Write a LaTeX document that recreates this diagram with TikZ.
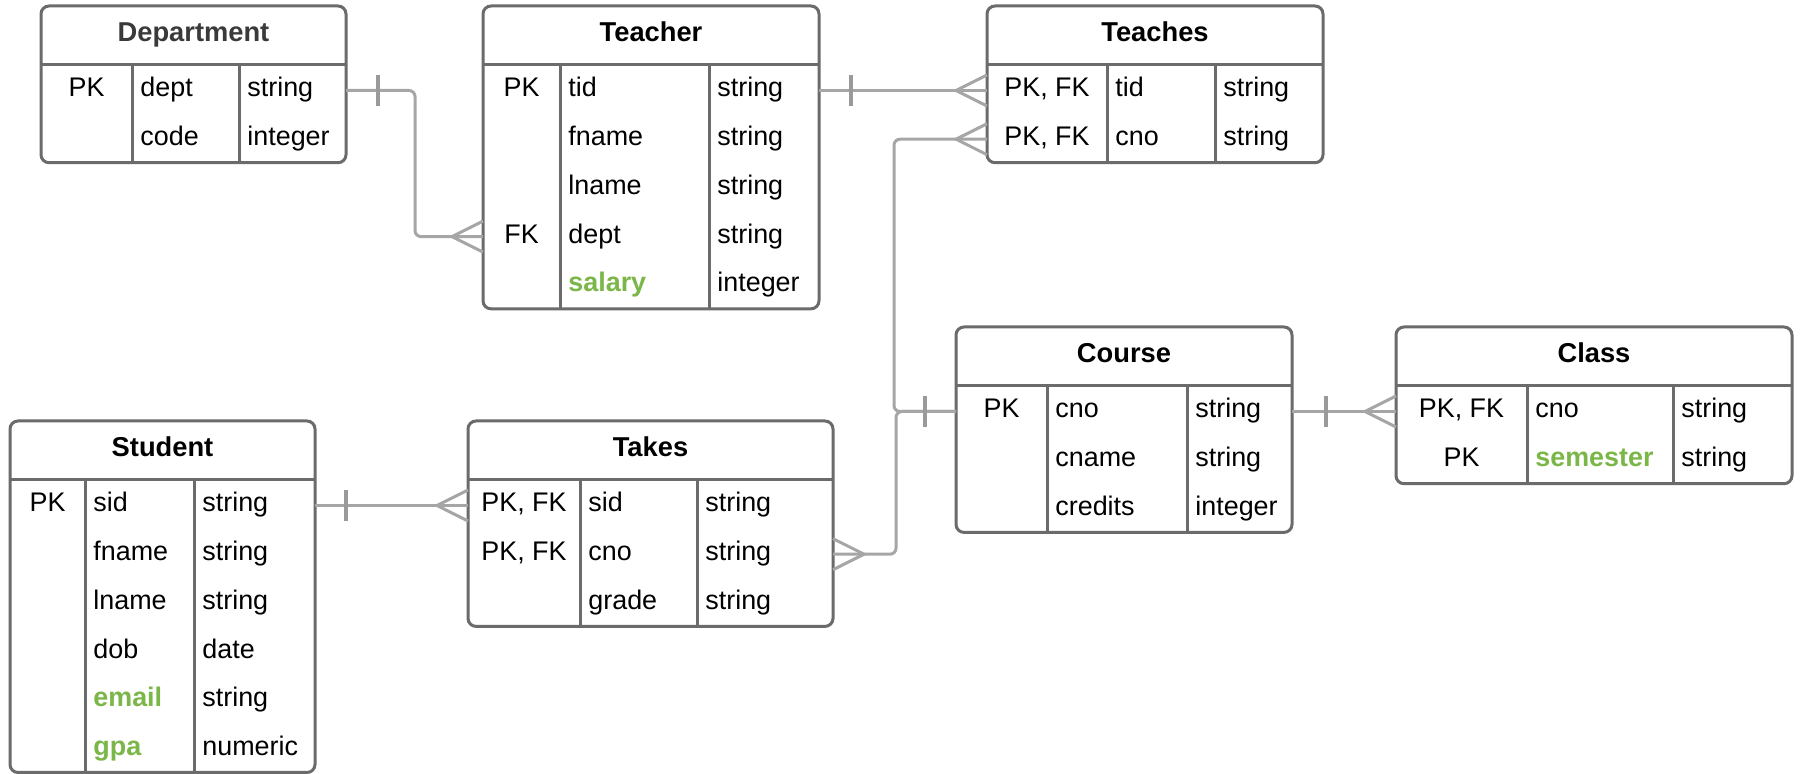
\documentclass[tikz,border=0pt]{standalone}
\usepackage{fontspec}
\setmainfont{Liberation Sans}
\usetikzlibrary{calc,fit}

\definecolor{boxgray}{HTML}{6B6B6B}
\definecolor{linkgray}{HTML}{A6A6A6}
\definecolor{markgray}{HTML}{9A9A9A}
\definecolor{ergreen}{HTML}{7AB648}
\definecolor{deptgray}{HTML}{3A3A3A}

\tikzset{
  box/.style={draw=boxgray, line width=1.5pt},
  conn/.style={draw=linkgray, line width=1.5pt},
  barmark/.style={draw=markgray, line width=2pt},
  celltext/.style={inner sep=0pt, font=\fontsize{13.45}{15}\selectfont, text=black},
  titletext/.style={inner sep=0pt, font=\fontsize{13.65}{15}\selectfont\bfseries, text=black},
}
\newcommand\hl[1]{\textcolor{ergreen}{\bfseries #1}}

% #1 id, #2 title, #3 left, #4 first divider, #5 second divider, #6 right,
% #7 top, #8 number of rows, #9 rows as key/name/type
\newcommand\ertable[9]{%
  \pgfmathsetmacro\hy{#7+59}%
  \pgfmathsetmacro\by{#7+59+49+48.7*(#8-1)}%
  \draw[box, fill=white, rounded corners=4pt] (#3,#7) rectangle (#6,\by);
  \node[inner sep=0pt, outer sep=0pt, fit={(#3,#7) (#6,\by)}] (#1) {};
  \draw[box] (#3,\hy) -- (#6,\hy) (#4,\hy) -- (#4,\by) (#5,\hy) -- (#5,\by);
  \node[titletext, anchor=base] (#1-title) at ({(#3+#6)/2},{#7+35.5}) {#2};
  \foreach \k/\n/\t [count=\i] in {#9} {
    \pgfmathsetmacro\ry{\hy+22.5+48.7*(\i-1)}
    % link attachment height for this row
    \coordinate (#1-r\i) at (#3,{\ry+3});
    \node[celltext, anchor=base] (#1-k\i) at ({(#3+#4)/2},{\ry+9.5}) {\k};
    \node[celltext, anchor=base west] (#1-n\i) at ({#4+8},{\ry+9.5}) {\n};
    \node[celltext, anchor=base west] (#1-t\i) at ({#5+8},{\ry+9.5}) {\t};
  }
}
% bar across a link, #2 px away from the table edge
\newcommand\onemark[2]{\draw[barmark] ($(#1)+(#2,-15.5)$) -- ($(#1)+(#2,15.5)$);}
% crow's foot meeting the table edge, tip #2 px away
\newcommand\crowfoot[2]{\draw[conn] ($(#1)+(0,-15.5)$) -- ($(#1)+(#2,0)$) -- ($(#1)+(0,15.5)$);}

\begin{document}
\begin{tikzpicture}[x=0.5pt, y=-0.5pt]
\fill[white] (0,0) rectangle (1800,774);
\useasboundingbox (0,0) rectangle (1800,774);

\ertable{department}{\textcolor{deptgray}{Department}}{41}{132}{239}{346}{6}{2}
  {PK/dept/string, {}/code/integer}
\ertable{teacher}{Teacher}{483}{560}{709}{819}{6}{5}
  {PK/tid/string, {}/fname/string, {}/lname/string, FK/dept/string, {}/\hl{salary}/integer}
\ertable{teaches}{Teaches}{987}{1107}{1215}{1323}{6}{2}
  {{PK, FK}/tid/string, {PK, FK}/cno/string}
\ertable{course}{Course}{956}{1047}{1187}{1292}{327}{3}
  {PK/cno/string, {}/cname/string, {}/credits/integer}
\ertable{class}{Class}{1396}{1527}{1673}{1792}{327}{2}
  {{PK, FK}/cno/string, PK/\hl{semester}/string}
\ertable{student}{Student}{10}{85}{194}{315}{421}{6}
  {PK/sid/string, {}/fname/string, {}/lname/string, {}/dob/date, {}/\hl{email}/string, {}/\hl{gpa}/numeric}
\ertable{takes}{Takes}{468}{580}{697}{833}{421}{3}
  {{PK, FK}/sid/string, {PK, FK}/cno/string, {}/grade/string}

\coordinate (deptbend) at (415,0);
\coordinate (teachesbus) at (894,0);
\coordinate (takesbus) at (896,0);

% Department -- Teacher
\draw[conn, rounded corners=3pt] (department.east |- department-r1) -- (deptbend |- department-r1)
  -- (deptbend |- teacher-r4) -- (teacher.west |- teacher-r4);
\onemark{department.east |- department-r1}{32}
\crowfoot{teacher.west |- teacher-r4}{-31}

% Teacher -- Teaches
\draw[conn] (teacher.east |- teacher-r1) -- (teaches.west |- teaches-r1);
\onemark{teacher.east |- teacher-r1}{32}
\crowfoot{teaches.west |- teaches-r1}{-31}

% Teaches, Takes -- Course
\draw[conn, rounded corners=3pt] (teaches.west |- teaches-r2) -- (teachesbus |- teaches-r2)
  -- (teachesbus |- course-r1) -- (course.west |- course-r1);
\crowfoot{teaches.west |- teaches-r2}{-31}
\draw[conn, rounded corners=3pt] (takes.east |- takes-r2) -- (takesbus |- takes-r2)
  -- (takesbus |- course-r1) -- (course.west |- course-r1);
\crowfoot{takes.east |- takes-r2}{31}
\onemark{course.west |- course-r1}{-31}

% Student -- Takes
\draw[conn] (student.east |- student-r1) -- (takes.west |- takes-r1);
\onemark{student.east |- student-r1}{31}
\crowfoot{takes.west |- takes-r1}{-31}

% Course -- Class
\draw[conn] (course.east |- course-r1) -- (class.west |- class-r1);
\onemark{course.east |- course-r1}{34}
\crowfoot{class.west |- class-r1}{-31}
\end{tikzpicture}
\end{document}
